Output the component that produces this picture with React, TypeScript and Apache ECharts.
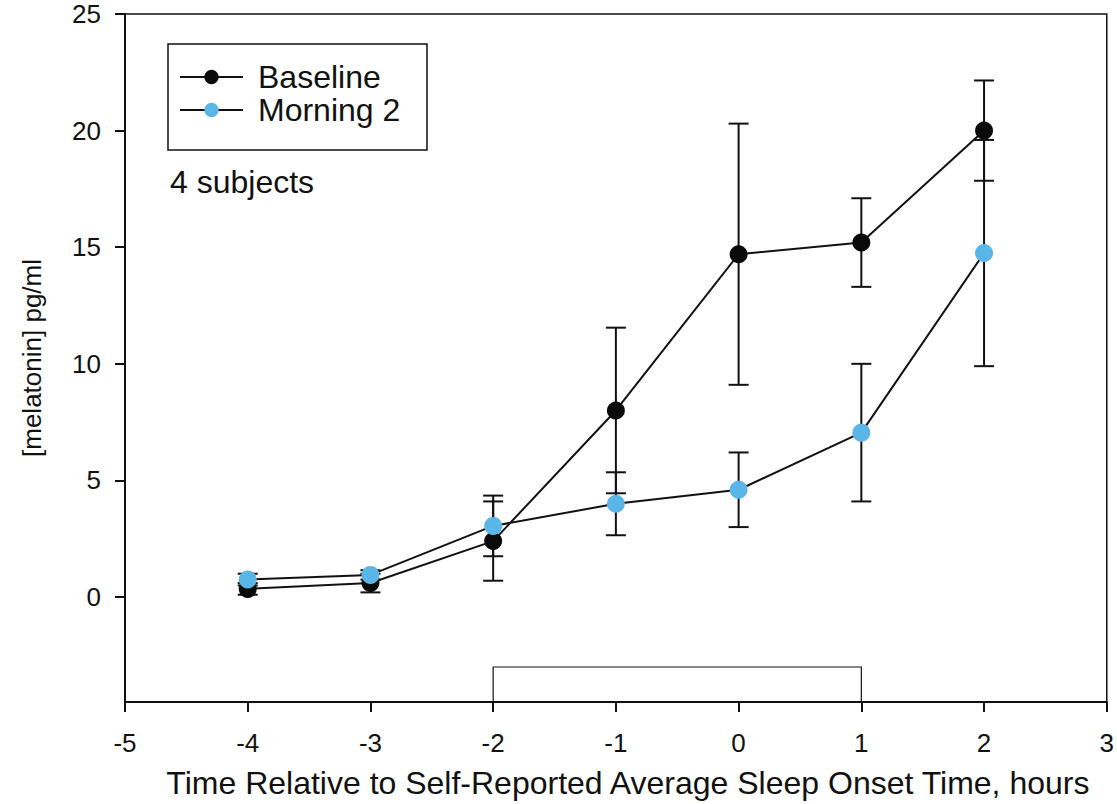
import React, { useEffect, useRef } from "react";
import * as echarts from "echarts";

const hours = [-4, -3, -2, -1, 0, 1, 2];
const baseline = [0.35, 0.6, 2.4, 8.0, 14.7, 15.2, 20.0];
const baselineErr = [0.25, 0.4, 1.7, 3.55, 5.6, 1.9, 2.15];
const morning2 = [0.75, 0.95, 3.05, 4.0, 4.6, 7.05, 14.75];
const morning2Err = [0.25, 0.2, 1.3, 1.35, 1.6, 2.95, 4.85];
const yTicks = [0, 5, 10, 15, 20, 25];
const sleepBar = [[-2, 1, -3]];

const FONT = "'Liberation Sans', Arial, sans-serif";

function errData(vals: number[], errs: number[]) {
  return hours.map((h, i) => [h, vals[i] - errs[i], vals[i] + errs[i]]);
}

const errRender = (params: any, api: any) => {
  const x = api.value(0);
  const lo = api.coord([x, api.value(1)]);
  const hi = api.coord([x, api.value(2)]);
  const hw = 10;
  const style = { stroke: "#111", lineWidth: 2 };
  return {
    type: "group",
    children: [
      { type: "line", shape: { x1: lo[0], y1: lo[1], x2: hi[0], y2: hi[1] }, style },
      { type: "line", shape: { x1: lo[0] - hw, y1: lo[1], x2: lo[0] + hw, y2: lo[1] }, style },
      { type: "line", shape: { x1: hi[0] - hw, y1: hi[1], x2: hi[0] + hw, y2: hi[1] }, style },
    ],
  };
};

export default function App() {
  const ref = useRef<HTMLDivElement>(null);
  useEffect(() => {
    if (!ref.current) return;
    const chart = echarts.init(ref.current, null, { renderer: "svg" });
    chart.setOption({
      animation: false,
      backgroundColor: "#fff",
      textStyle: { fontFamily: FONT },
      grid: {
        left: 125,
        top: 14,
        width: 986,
        height: 691,
        show: true,
        borderColor: "#111",
        borderWidth: 1.5,
        containLabel: false,
      },
      legend: {
        left: 174,
        top: 56,
        orient: "vertical",
        itemWidth: 63,
        itemHeight: 18,
        itemGap: 1,
        textStyle: { fontSize: 32, lineHeight: 32, color: "#111", fontFamily: FONT, padding: [0, 0, 0, 10] },
        data: ["Baseline", "Morning 2"],
      },
      xAxis: {
        type: "value",
        min: -5,
        max: 3,
        interval: 1,
        splitLine: { show: false },
        axisLine: { onZero: false, lineStyle: { color: "#111", width: 2 } },
        axisTick: { show: true, inside: false, length: 10, lineStyle: { color: "#111", width: 2 } },
        axisLabel: { fontSize: 26, color: "#111", margin: 28, fontFamily: FONT },
        name: "Time Relative to Self-Reported Average Sleep Onset Time, hours",
        nameLocation: "middle",
        nameGap: 65,
        nameTextStyle: { fontSize: 32, color: "#111", fontFamily: FONT, padding: [0, 0, 0, 24] },
      },
      yAxis: {
        type: "value",
        min: -4.5,
        max: 25,
        splitLine: { show: false },
        axisLine: { onZero: false, lineStyle: { color: "#111", width: 2 } },
        axisTick: { show: true, inside: false, length: 10, customValues: yTicks, lineStyle: { color: "#111", width: 2 } },
        axisLabel: { fontSize: 26, color: "#111", margin: 24, customValues: yTicks, fontFamily: FONT },
        name: "[melatonin] pg/ml",
        nameLocation: "middle",
        nameGap: 80,
        nameTextStyle: { fontSize: 26, color: "#111", fontFamily: FONT },
      },
      graphic: [
        { type: "rect", shape: { x: 168, y: 44, width: 259, height: 106 }, style: { fill: "none", stroke: "#111", lineWidth: 1.5 }, z: 10 },
        { type: "text", left: 170, top: 166, style: { text: "4 subjects", fontSize: 32, fill: "#111", fontFamily: FONT }, z: 10 },
      ],
      series: [
        {
          type: "custom",
          name: "sleep",
          renderItem: (params: any, api: any) => {
            const a = api.coord([api.value(0), api.value(2)]);
            const b = api.coord([api.value(1), -4.5]);
            return {
              type: "rect",
              shape: { x: a[0], y: a[1], width: b[0] - a[0], height: b[1] - a[1] },
              style: { fill: "none", stroke: "#111", lineWidth: 1.2 },
            };
          },
          data: sleepBar,
          z: 1,
        },
        {
          type: "custom",
          name: "baselineErr",
          renderItem: errRender,
          data: errData(baseline, baselineErr),
          z: 2,
        },
        {
          type: "custom",
          name: "morning2Err",
          renderItem: errRender,
          data: errData(morning2, morning2Err),
          z: 2,
        },
        {
          type: "line",
          name: "Baseline",
          data: hours.map((h, i) => [h, baseline[i]]),
          symbol: "circle",
          symbolSize: 18,
          lineStyle: { color: "#111", width: 2 },
          itemStyle: { color: "#0a0a0a" },
          z: 3,
        },
        {
          type: "line",
          name: "Morning 2",
          data: hours.map((h, i) => [h, morning2[i]]),
          symbol: "circle",
          symbolSize: 18,
          lineStyle: { color: "#111", width: 2 },
          itemStyle: { color: "#5AB6E6" },
          z: 4,
        },
      ],
    });
    return () => chart.dispose();
  }, []);
  return (
    <div
      ref={ref}
      style={{ position: "absolute", left: 0, top: 0, width: 1117, height: 804 }}
    />
  );
}
